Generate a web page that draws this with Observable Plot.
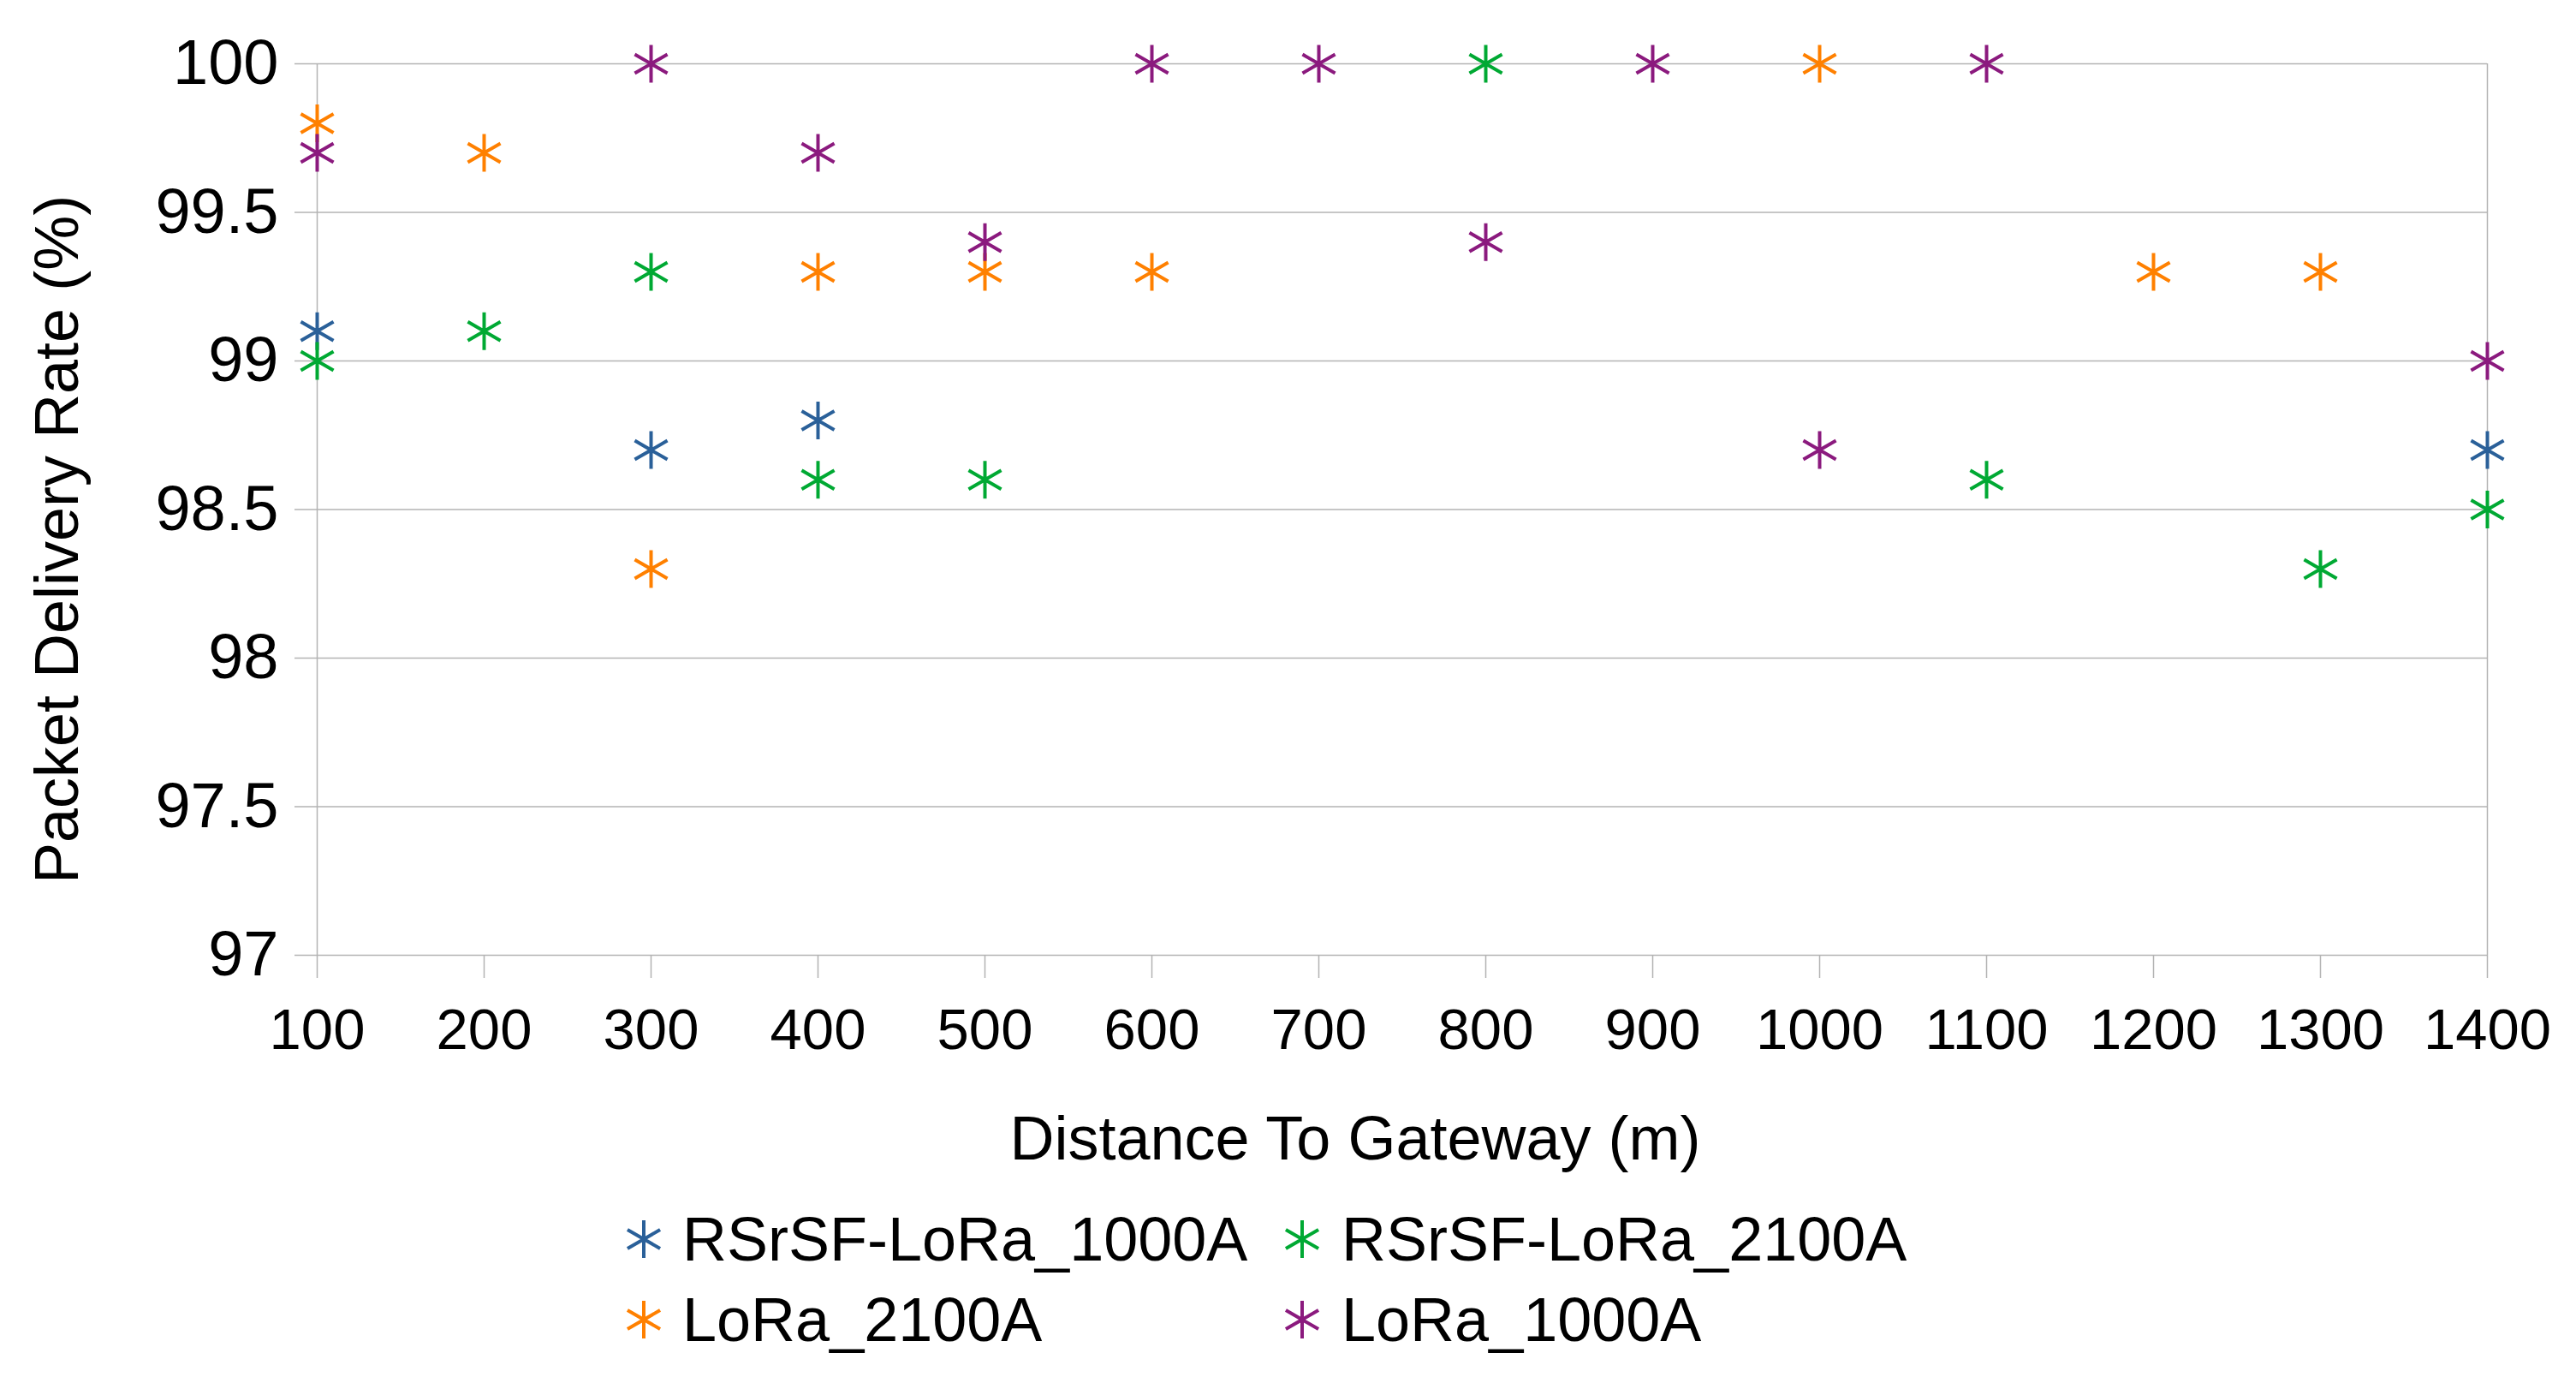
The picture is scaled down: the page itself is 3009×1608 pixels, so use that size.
<!DOCTYPE html>
<html>
<head>
<meta charset="utf-8">
<script src="https://cdn.jsdelivr.net/npm/d3@7"></script>
<script src="https://cdn.jsdelivr.net/npm/@observablehq/plot@0.6"></script>
<style>
  html, body { margin: 0; padding: 0; background: #fff; overflow: hidden; }
  body { font-family: "Liberation Sans", Arial, sans-serif; }
  #legend { position: relative; width: 3009px; height: 208px; }
  .item { position: absolute; font-size: 72px; line-height: 72px; color: #000; white-space: nowrap; }
  .mk { position: absolute; width: 50px; height: 50px; }
</style>
</head>
<body>
<div id="chart"></div>
<div id="legend"></div>
<script>
// ---- data ----
const distances = [100, 200, 300, 400, 500, 600, 700, 800, 900, 1000, 1100, 1200, 1300, 1400];
const seriesNames = ["RSrSF-LoRa_1000A", "RSrSF-LoRa_2100A", "LoRa_2100A", "LoRa_1000A"];
const seriesColors = ["#2a6099", "#00a933", "#ff8000", "#8b1a7e"];
const rsrsf1000 = [99.1, null, 98.7, 98.8, null, null, null, null, null, null, null, null, null, 98.7];
const rsrsf2100 = [99.0, 99.1, 99.3, 98.6, 98.6, null, null, 100, null, null, 98.6, null, 98.3, 98.5];
const lora2100  = [99.8, 99.7, 98.3, 99.3, 99.3, 99.3, null, null, null, 100, null, 99.3, 99.3, null];
const lora1000  = [99.7, null, 100, 99.7, 99.4, 100, 100, 99.4, 100, 98.7, 100, null, null, 99.0];
const yTicks = [97, 97.5, 98, 98.5, 99, 99.5, 100];
const xLabel = "Distance To Gateway (m)";
const yLabel = "Packet Delivery Rate (%)";

const seriesValues = [rsrsf1000, rsrsf2100, lora2100, lora1000];
const rows = [];
seriesValues.forEach((vals, s) => {
  vals.forEach((v, i) => {
    if (v != null) rows.push({distance: distances[i], value: v, series: seriesNames[s]});
  });
});

// 6-armed asterisk (vertical arm + two diagonals)
const asterisk = {
  draw(ctx, size) {
    const r = Math.sqrt(size / Math.PI);
    const t = r / 2, u = t * Math.sqrt(3);
    ctx.moveTo(0, r); ctx.lineTo(0, -r);
    ctx.moveTo(-u, -t); ctx.lineTo(u, t);
    ctx.moveTo(-u, t); ctx.lineTo(u, -t);
  }
};

const grid = "#b3b3b3";
const chart = Plot.plot({
  width: 3009,
  height: 1400,
  marginLeft: 370,
  marginRight: 104,
  marginTop: 74,
  marginBottom: 285,
  style: {fontFamily: "'Liberation Sans', Arial, sans-serif", background: "#fff", color: "#000"},
  x: {type: "linear", domain: [100, 1400]},
  y: {type: "linear", domain: [97, 100]},
  color: {domain: seriesNames, range: seriesColors},
  marks: [
    Plot.gridY(yTicks, {stroke: grid, strokeOpacity: 1, strokeWidth: 1.5}),
    Plot.ruleX([100, 1400], {stroke: grid, strokeWidth: 1.5}),
    Plot.axisY({ticks: yTicks, tickSize: 26, tickPadding: 19, tickFormat: String, fontSize: 74,
                stroke: grid, strokeWidth: 1.5, fill: "#000", label: null}),
    Plot.axisX({ticks: distances, tickSize: 27, tickPadding: 35, tickFormat: String, fontSize: 67,
                stroke: grid, strokeWidth: 1.5, fill: "#000", label: null}),
    Plot.dot(rows, {x: "distance", y: "value", stroke: "series", fill: "none",
                    symbol: asterisk, r: 22, strokeWidth: 4}),
    Plot.text([yLabel], {frameAnchor: "left", dx: -280, dy: 35, rotate: -90, lineAnchor: "bottom",
                         textAnchor: "middle", fontSize: 72, fill: "#000"}),
    Plot.text([xLabel], {frameAnchor: "bottom", dx: -55, dy: 238, lineAnchor: "bottom",
                         textAnchor: "middle", fontSize: 72, fill: "#000"})
  ]
});
document.getElementById("chart").appendChild(chart);

// ---- legend ----
const legend = document.getElementById("legend");
const markerCx = [752, 1521], textX = [797, 1567], rowCy = [47, 141];
seriesNames.forEach((name, i) => {
  const col = i % 2, row = Math.floor(i / 2);
  const svgNS = "http://www.w3.org/2000/svg";
  const svg = document.createElementNS(svgNS, "svg");
  svg.setAttribute("class", "mk");
  svg.setAttribute("viewBox", "-25 -25 50 50");
  svg.style.left = (markerCx[col] - 25) + "px";
  svg.style.top = (rowCy[row] - 25) + "px";
  const path = document.createElementNS(svgNS, "path");
  const r = 22, t = r / 2, u = t * Math.sqrt(3);
  path.setAttribute("d", `M0,${r}L0,${-r}M${-u},${-t}L${u},${t}M${-u},${t}L${u},${-t}`);
  path.setAttribute("stroke", seriesColors[i]);
  path.setAttribute("stroke-width", 4);
  path.setAttribute("fill", "none");
  svg.appendChild(path);
  legend.appendChild(svg);
  const span = document.createElement("span");
  span.className = "item";
  span.textContent = name;
  span.style.left = textX[col] + "px";
  span.style.top = (rowCy[row] - 36) + "px";
  legend.appendChild(span);
});
</script>
</body>
</html>
